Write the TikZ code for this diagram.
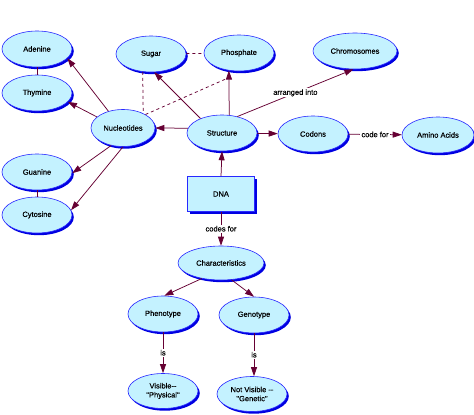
\documentclass[tikz,border=0pt]{standalone}
\usepackage{fontspec}
\setmainfont{Liberation Sans}
\newfontfamily\lblfont[RawFeature={embolden=0.35}]{Liberation Sans}
\usetikzlibrary{shapes.geometric,shadows,arrows.meta}
\definecolor{cfill}{RGB}{196,242,255}
\definecolor{cborder}{RGB}{40,40,255}
\definecolor{cshadow}{RGB}{0,0,225}
\definecolor{carrow}{RGB}{102,0,51}
\begin{document}
\begin{tikzpicture}[x=1pt,y=-1pt,
  concept/.style={ellipse, draw=cborder, line width=0.6pt, fill=cfill,
    minimum width=70pt, minimum height=36pt, inner sep=0pt,
    font=\fontsize{7.5}{9}\lblfont, align=center,
    general shadow={fill=cshadow, shadow xshift=1.8pt, shadow yshift=-2.2pt}},
  dnabox/.style={rectangle, draw=cborder, line width=0.6pt, fill=cfill,
    minimum width=67pt, minimum height=35pt, inner sep=0pt,
    font=\fontsize{7.5}{9}\lblfont,
    general shadow={fill=cshadow, shadow xshift=2.2pt, shadow yshift=-2.5pt}},
  arr/.style={draw=carrow, line width=0.75pt, -{Triangle[length=9pt,width=6pt]}},
  link/.style={draw=carrow, line width=0.75pt},
  dlink/.style={draw=carrow, line width=0.75pt, dash pattern=on 3pt off 3pt},
  lbl/.style={fill=white, inner sep=1pt, font=\fontsize{7.5}{9}\lblfont}]
\useasboundingbox (0,0) rectangle (474,415);
\fill[white] (0,0) rectangle (474,415);

\node[concept] (ad) at (37,49) {Adenine};
\node[concept] (th) at (37,93) {Thymine};
\node[concept] (gu) at (37,172) {Guanine};
\node[concept] (cy) at (37,215) {Cytosine};
\node[concept, minimum width=64pt, minimum height=37pt] (nu) at (123,128) {Nucleotides};
\node[concept] (su) at (151,54) {Sugar};
\node[concept] (ph) at (239,53) {Phosphate};
\node[concept, minimum width=84pt] (chr) at (355,51) {Chromosomes};
\node[concept] (st) at (222,133) {Structure};
\node[concept] (co) at (313,134) {Codons};
\node[concept, minimum width=72pt] (am) at (438,135) {Amino Acids};
\node[dnabox] (dna) at (221,194) {DNA};
\node[concept, minimum width=86pt, minimum height=34pt] (cha) at (221,263) {Characteristics};
\node[concept] (phe) at (163,314) {Phenotype};
\node[concept] (gen) at (254,315) {Genotype};
\node[concept, minimum height=35pt] (vis) at (163,391) {Visible-{}-\\"Physical"};
\node[concept, minimum height=35pt] (nvis) at (252,394) {Not Visible -{}-\\"Genetic"};
\coordinate (phlink) at (228,78);

% plain links
\draw[link] (ad) -- (th);
\draw[link] (gu) -- (cy);
% dashed links
\draw[dlink] (su) -- (ph);
\draw[dlink] (su.245) -- (nu.36);
\draw[dlink] (nu.31) -- (phlink);
% nucleotides
\draw[arr] (nu.131) -- (ad.-17);
\draw[arr] (nu.157) -- (th.-16);
\draw[arr] (nu.236) -- (gu.-2);
\draw[arr] (nu.270) -- (cy.8);
% structure
\draw[arr] (st.172) -- (nu.east);
\draw[arr] (st.146) -- (su.280);
\draw[arr] (st.68) -- (ph.240);
\draw[arr] (st.47) -- node[lbl] {arranged into} (chr.265);
\draw[arr] (st) -- (co);
\draw[arr] (co) -- node[lbl] {code for} (am);
% DNA
\draw[arr] (dna.north) -- (st.south);
\draw[arr] (dna) -- node[lbl] {codes for} (cha);
% characteristics
\draw[arr] (cha.219) -- (phe.86);
\draw[arr] (cha.302) -- (gen.north);
\draw[arr] (phe) -- node[lbl] {is} (vis);
\draw[arr] (gen.south) -- node[lbl] {is} (gen.south |- nvis.north);
\end{tikzpicture}
\end{document}
